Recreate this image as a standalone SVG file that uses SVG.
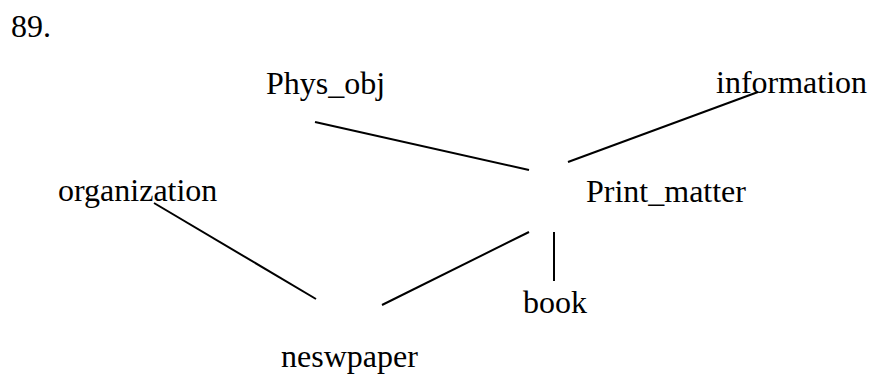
<svg xmlns="http://www.w3.org/2000/svg" width="869" height="374" viewBox="0 0 869 374">
<style>
text{font-family:"Liberation Serif","Times New Roman",serif;font-size:32px;fill:#000}
.c line{stroke:#000;stroke-width:2;stroke-linecap:butt}
</style>
<rect width="869" height="374" fill="#fff"/>
<text id="title" x="11" y="37">89.</text>
<g id="phys_obj"><text x="266" y="94">Phys_obj</text></g>
<g id="information"><text x="716" y="93">information</text></g>
<g id="organization"><text x="58" y="201">organization</text></g>
<g id="print_matter"><text x="586" y="202">Print_matter</text></g>
<g id="book"><text x="523" y="313">book</text></g>
<g id="neswpaper"><text x="281" y="367">neswpaper</text></g>
<g id="connectors" class="c">
<line x1="315" y1="122" x2="529" y2="170"/>
<line x1="568" y1="162" x2="758" y2="92"/>
<line x1="154" y1="203" x2="316" y2="299"/>
<line x1="382" y1="305" x2="529" y2="232"/>
<line x1="554" y1="232" x2="554" y2="281"/>
</g>
</svg>
